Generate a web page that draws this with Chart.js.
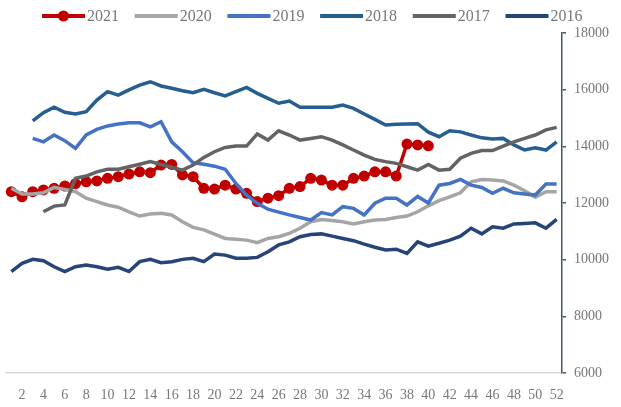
<!DOCTYPE html>
<html>
<head>
<meta charset="utf-8">
<script src="https://cdn.jsdelivr.net/npm/chart.js@4.4.0/dist/chart.umd.min.js"></script>
<style>
  html, body { margin: 0; padding: 0; background: #fff; }
  #wrap { width: 621px; height: 407px; position: relative; }
</style>
</head>
<body>
<div id="wrap"><canvas id="weeklyChart"></canvas></div>
<script>
// weeks 1..52 (only even ones are labelled)
const weeks = Array.from({ length: 52 }, (_, i) => String(i + 1));
const yTicks = [6000, 8000, 10000, 12000, 14000, 16000, 18000];

const s2021 = [12400, 12220, 12400, 12460, 12520, 12600, 12680, 12750, 12780, 12870,
  12930, 13020, 13100, 13070, 13340, 13360, 12990, 12930, 12520, 12490,
  12630, 12490, 12340, 12050, 12170, 12260, 12520, 12580, 12870, 12810,
  12630, 12630, 12870, 12950, 13100, 13100, 12950, 14080, 14050, 14020,
  null, null, null, null, null, null, null, null, null, null, null, null];

const s2020 = [12520, 12320, 12320, 12360, 12550, 12480, 12400, 12170, 12050, 11930,
  11850, 11690, 11540, 11610, 11640, 11580, 11340, 11140, 11050, 10900,
  10750, 10720, 10690, 10600, 10750, 10810, 10930, 11110, 11340, 11420,
  11380, 11340, 11260, 11340, 11400, 11420, 11490, 11540, 11690, 11900,
  12080, 12220, 12360, 12750, 12830, 12810, 12780, 12630, 12430, 12200, 12400, 12400];

const s2019 = [null, null, 14280, 14160, 14400, 14200, 13930, 14400, 14600, 14720,
  14790, 14830, 14830, 14690, 14870, 14160, 13810, 13420, 13370, 13300,
  13190, 12690, 12280, 11990, 11780, 11680, 11580, 11490, 11400, 11660,
  11580, 11870, 11810, 11580, 11990, 12170, 12170, 11930, 12230, 12000,
  12630, 12690, 12830, 12630, 12550, 12340, 12520, 12360, 12320, 12280, 12670, 12670];

const s2018 = [null, null, 14900, 15190, 15380, 15200, 15140, 15220, 15630, 15930,
  15810, 15990, 16160, 16280, 16130, 16050, 15960, 15890, 16010, 15890,
  15780, 15930, 16080, 15870, 15690, 15520, 15600, 15380, 15380, 15380,
  15380, 15460, 15340, 15140, 14950, 14750, 14780, 14790, 14800, 14500,
  14340, 14550, 14510, 14400, 14300, 14260, 14280, 14050, 13870, 13950, 13870, 14160];

const s2017 = [null, null, null, 11690, 11890, 11930, 12870, 12950, 13100, 13190,
  13190, 13280, 13370, 13460, 13360, 13260, 13160, 13340, 13610, 13810,
  13960, 14010, 14010, 14440, 14220, 14550, 14400, 14220, 14280, 14340,
  14220, 14050, 13870, 13690, 13540, 13460, 13400, 13280, 13160, 13360,
  13160, 13190, 13580, 13750, 13850, 13850, 14010, 14160, 14280, 14400, 14580, 14670];

const s2016 = [9580, 9870, 10010, 9960, 9750, 9580, 9750, 9810, 9750, 9660,
  9730, 9580, 9930, 10010, 9890, 9930, 10010, 10050, 9930, 10200,
  10160, 10050, 10050, 10080, 10280, 10520, 10630, 10810, 10890, 10910,
  10830, 10750, 10670, 10550, 10440, 10340, 10370, 10220, 10630, 10480,
  10580, 10690, 10830, 11110, 10910, 11160, 11110, 11260, 11280, 11300, 11110, 11420];

const seriesNames = ['2021', '2020', '2019', '2018', '2017', '2016'];
const seriesData = [s2021, s2020, s2019, s2018, s2017, s2016];
const seriesColors = ['#C00000', '#A5A5A5', '#4472C4', '#255E91', '#636363', '#264478'];

const FONT = "'Liberation Serif', 'Times New Roman', serif";
const TEXT_COLOR = '#777777';

// Build datasets; later series drawn on top (Excel style)
const datasets = seriesNames.map((name, i) => ({
  label: name,
  data: seriesData[i],
  borderColor: seriesColors[i],
  backgroundColor: seriesColors[i],
  borderWidth: 3.5,
  pointRadius: i === 0 ? 5.5 : 0,
  pointHoverRadius: i === 0 ? 5.5 : 0,
  pointBorderWidth: 0,
  tension: 0,
  spanGaps: false,
  order: seriesNames.length - 1 - i
}));

/**
 * Simple legend drawn above the chart: line sample + year
 */
const topLegend = {
  id: 'topLegend',
  afterDraw(chart) {
    const ctx = chart.ctx;
    const y = 16;
    const lineLen = 43;
    ctx.save();
    ctx.font = '16px ' + FONT;
    ctx.textBaseline = 'middle';
    ctx.textAlign = 'left';
    seriesNames.forEach((name, i) => {
      const x = 42 + i * 92.7;
      ctx.strokeStyle = seriesColors[i];
      ctx.lineWidth = 4;
      ctx.beginPath();
      ctx.moveTo(x, y);
      ctx.lineTo(x + lineLen, y);
      ctx.stroke();
      if (i === 0) {
        ctx.fillStyle = seriesColors[i];
        ctx.beginPath();
        ctx.arc(x + lineLen / 2, y, 5.5, 0, Math.PI * 2);
        ctx.fill();
      }
      ctx.fillStyle = TEXT_COLOR;
      ctx.fillText(name, x + lineLen + 2, y + 1);
    });
    ctx.restore();
  }
};

const ctx = document.getElementById('weeklyChart').getContext('2d');
new Chart(ctx, {
  type: 'line',
  data: { labels: weeks, datasets: datasets },
  options: {
    responsive: true,
    maintainAspectRatio: false,
    animation: false,
    layout: { padding: { top: 33, left: 6, right: 0, bottom: 0 } },
    plugins: {
      legend: { display: false },
      tooltip: { enabled: false }
    },
    scales: {
      x: {
        type: 'category',
        offset: true,
        grid: { display: false },
        border: { display: true, color: '#D9D9D9', width: 1.5 },
        ticks: {
          autoSkip: false,
          maxRotation: 0,
          padding: 6,
          color: TEXT_COLOR,
          font: { family: FONT, size: 14 },
          callback: function(value, index) {
            return (index + 1) % 2 === 0 ? weeks[index] : '';
          }
        },
        afterFit(scale) { scale.height = 34; }
      },
      y: {
        position: 'right',
        min: yTicks[0],
        max: yTicks[yTicks.length - 1],
        afterBuildTicks(scale) {
          scale.ticks = yTicks.map(v => ({ value: v }));
        },
        grid: {
          drawOnChartArea: false,
          drawTicks: true,
          tickLength: 4,
          color: '#44546A',
          lineWidth: 1.5
        },
        border: { display: true, color: '#44546A', width: 1.5 },
        ticks: {
          padding: 8,
          color: TEXT_COLOR,
          font: { family: FONT, size: 14 },
          callback: function(value) {
            return String(value);
          }
        },
        afterFit(scale) { scale.width = 59; }
      }
    }
  },
  plugins: [topLegend]
});
</script>
</body>
</html>
